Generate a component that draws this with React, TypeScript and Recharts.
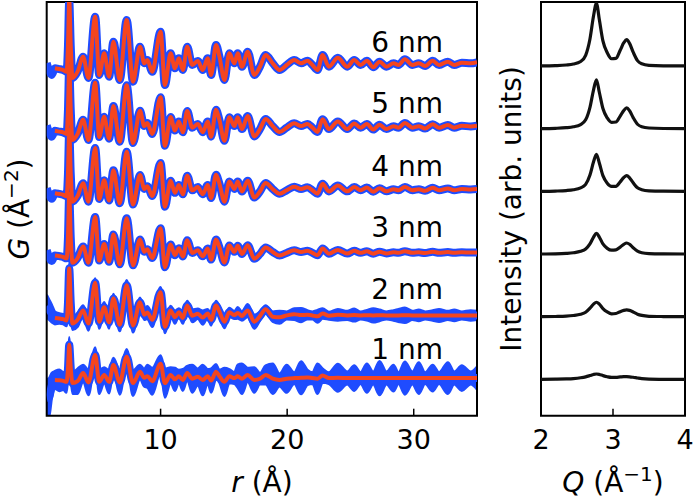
import React from 'react';
import { ComposedChart, Line, Area, XAxis, YAxis, ReferenceArea } from 'recharts';

// ---------- left panel: PDF G(r) ----------
const rPts = [1.0, 1.2, 1.4, 1.65, 2.0, 2.3, 2.57, 2.68, 2.78, 2.9, 3.04, 3.44, 3.88, 4.3, 4.83, 5.15, 5.54, 5.93, 6.27, 6.77, 7.32, 7.82, 8.37, 8.71, 8.95, 9.34, 10.0, 10.34, 10.79, 11.13, 11.44, 11.76, 12.1, 12.5, 12.94, 13.33, 13.72, 13.99, 14.38, 14.65, 15.04, 15.43, 15.83, 16.09, 16.43, 16.88, 17.4, 17.85, 18.3, 18.86, 19.4, 19.96, 20.56, 21.1, 21.6, 22.0, 22.4, 22.8, 23.3, 24.0, 24.75, 25.3, 25.8, 26.3, 26.8, 27.3, 27.85, 28.4, 28.8, 29.3, 29.9, 30.4, 30.9, 31.5, 32.0, 32.7, 33.2, 33.8, 34.5, 35.0];

const fit6 = [null, null, null, -0.57, -0.7, -0.85, -1.12, 3.0, 10.3, 3.0,
  -2.12, -1.12, 1.28, -2.12, 7.66, -1.64, 1.82, -1.91, 3.67, -2.44,
  7.13, -2.71, 2.87, 0.22, 0.75, -1.12, 5.26, -3.24, 1.82, -0.57,
  1.02, -0.85, 2.87, -0.05, 0.6, -0.85, 1.02, -1.64, 3.14, 1.28,
  -2.44, 1.82, 0.22, 1.82, -0.32, 2.07, -1.64, -0.32, 1.55, 0.22,
  -0.85, -0.05, 0.75, 0.22, 0.64, -0.05, -0.85, 1.55, -0.32, 1.1,
  -0.32, 0.75, -0.05, 0.64, -0.41, 0.48, -0.32, 0.22, -0.05, 0.86,
  -0.05, 0.22, -0.21, 0.64, -0.05, 0.48, -0.05, 0.32, 0.22, 0.38];
const fit5 = [null, null, null, -0.55, -0.68, -0.8, -1.05, 2.8, 9.8, 2.8,
  -2.0, -1.05, 1.2, -2.0, 7.1, -1.55, 1.7, -1.8, 3.4, -2.3,
  6.7, -2.5, 2.65, 0.2, 0.7, -1.05, 4.8, -2.95, 1.65, -0.5,
  0.92, -0.78, 2.6, -0.05, 0.55, -0.78, 0.92, -1.48, 2.8, 1.15,
  -2.15, 1.6, 0.2, 1.6, -0.28, 1.8, -1.45, -0.28, 1.35, 0.2,
  -0.75, -0.05, 0.65, 0.2, 0.55, -0.05, -0.72, 1.3, -0.28, 0.95,
  -0.28, 0.62, -0.05, 0.52, -0.35, 0.4, -0.27, 0.18, -0.05, 0.7,
  -0.05, 0.18, -0.18, 0.5, -0.05, 0.38, -0.05, 0.25, 0.15, 0.28];
const fit4 = [null, null, null, -0.5, -0.62, -0.75, -1.0, 2.6, 9.6, 2.6,
  -1.85, -0.95, 1.1, -1.85, 6.7, -1.42, 1.58, -1.65, 3.15, -2.1,
  6.1, -2.3, 2.4, 0.18, 0.62, -0.95, 4.3, -2.65, 1.48, -0.45,
  0.82, -0.68, 2.3, -0.05, 0.48, -0.68, 0.8, -1.28, 2.45, 1.0,
  -1.85, 1.38, 0.17, 1.35, -0.24, 1.5, -1.2, -0.24, 1.12, 0.16,
  -0.6, -0.04, 0.52, 0.16, 0.44, -0.04, -0.58, 1.02, -0.22, 0.72,
  -0.21, 0.48, -0.04, 0.4, -0.26, 0.3, -0.2, 0.13, -0.03, 0.5,
  -0.03, 0.13, -0.12, 0.35, -0.03, 0.26, -0.03, 0.17, 0.1, 0.18];
const fit3 = [null, null, null, -0.45, -0.55, -0.68, -0.9, 2.4, 9.4, 2.4,
  -1.6, -0.85, 1.0, -1.6, 5.7, -1.25, 1.4, -1.45, 2.9, -1.85,
  5.5, -2.0, 2.1, 0.15, 0.55, -0.85, 3.9, -2.3, 1.3, -0.4,
  0.7, -0.6, 2.0, -0.05, 0.4, -0.58, 0.68, -1.1, 2.1, 0.85,
  -1.55, 1.15, 0.14, 1.1, -0.2, 1.2, -0.95, -0.2, 0.85, 0.12,
  -0.45, -0.03, 0.38, 0.11, 0.3, -0.03, -0.4, 0.68, -0.15, 0.45,
  -0.13, 0.3, -0.02, 0.24, -0.15, 0.17, -0.11, 0.07, -0.02, 0.25,
  -0.02, 0.06, -0.06, 0.16, -0.01, 0.1, -0.01, 0.06, 0.03, 0.05];
const fit2 = [null, null, null, -0.4, -0.5, -0.6, -0.8, 2.0, 7.5, 2.0,
  -1.3, -0.7, 0.8, -1.3, 5.2, -1.0, 1.3, -1.1, 2.7, -1.5,
  4.8, -1.6, 2.1, 0.1, 0.45, -0.7, 3.7, -1.8, 0.8, -0.3,
  0.5, -0.4, 1.6, -0.05, 0.25, -0.35, 0.3, -0.7, 1.6, 0.6,
  -1.0, 0.5, 0.05, 0.4, -0.1, 0.8, -1.0, -0.1, 1.0, -0.2,
  -0.3, 0.0, 0.2, 0.05, 0.1, 0.0, -0.15, 0.3, -0.05, 0.1,
  0, 0.05, 0, 0.03, 0, 0.02, 0, 0, 0, 0.02,
  0, 0, 0, 0, 0, 0, 0, 0, 0, 0];
const fit1 = [null, null, null, -0.3, -0.35, -0.45, -0.6, 1.5, 5.3, 1.6,
  -0.8, -0.5, 0.8, -0.7, 3.7, -0.6, 0.5, -0.6, 2.1, -0.7,
  3.4, -0.8, 1.0, 0.05, 0.3, -0.5, 2.3, -0.8, 0.5, -0.2,
  0.3, -0.3, 0.8, -0.1, 0.2, -0.3, 0.3, -0.4, 1.0, 0.3,
  -0.6, 0.3, 0.0, 0.3, -0.1, 0.5, -0.3, -0.1, 0.5, -0.1,
  -0.3, -0.1, 0.0, 0.05, 0.1, 0.0, -0.1, 0.4, 0.0, 0.05,
  0, 0, 0, 0, 0, 0, 0, 0, 0, 0,
  0, 0, 0, 0, 0, 0, 0, 0, 0, 0];

// measured data below the fit range (r = 1.0, 1.2, 1.4)
const lead6 = [0.27, -1.0, -1.64];
const lead5 = [0.3, -0.9, -1.5];
const lead4 = [0.3, -0.85, -1.4];
const lead3 = [0.4, -0.8, -1.3];
const lead2 = [1.5, 0.9, 0.3];
const lead1 = [-3.2, -3.0, -1.2];

// half-width of the noisy measured data around the fit (2 nm, 1 nm)
const noise2 = [1.8, 1.6, 1.4, 1.0, 0.8, 0.8, 0.9, 0.8, 0.7, 0.8,
  1.0, 1.1, 0.8, 1.1, 0.7, 1.1, 0.8, 1.0, 0.7, 1.0,
  0.8, 1.1, 0.7, 0.8, 1.0, 1.1, 0.8, 1.0, 0.7, 1.0,
  0.6, 0.9, 0.7, 1.0, 0.8, 1.1, 0.7, 0.9, 0.7, 0.8,
  1.0, 0.7, 0.6, 0.9, 0.7, 1.0, 1.1, 0.7, 0.6, 0.8,
  1.0, 0.6, 0.9, 1.1, 0.7, 0.6, 1.0, 0.8, 0.6, 0.9,
  0.7, 1.0, 0.6, 0.8, 1.1, 0.9, 0.6, 0.8, 1.0, 1.2,
  0.7, 0.9, 0.6, 0.8, 1.0, 0.7, 0.9, 0.6, 0.8, 0.7];
const noise1 = [3.0, 3.0, 2.0, 1.4, 1.7, 1.4, 1.7, 1.4, 1.2, 1.4,
  1.7, 2.0, 1.3, 2.0, 1.2, 1.9, 1.2, 1.8, 1.1, 1.9,
  1.2, 2.0, 1.1, 1.4, 1.8, 2.1, 1.3, 2.3, 1.2, 1.8,
  1.0, 1.7, 1.1, 2.2, 1.3, 2.4, 1.1, 1.9, 1.2, 1.0,
  2.2, 1.1, 0.9, 1.8, 2.4, 1.1, 2.0, 0.9, 1.5, 2.4,
  1.0, 2.2, 0.9, 2.6, 1.2, 0.9, 2.4, 1.1, 0.9, 2.2,
  1.0, 2.0, 0.9, 2.3, 1.0, 2.7, 1.0, 2.1, 0.9, 2.6,
  1.0, 2.5, 0.9, 2.1, 0.9, 2.5, 1.0, 2.0, 1.0, 1.8];

const sizeLabels = ['6 nm', '5 nm', '4 nm', '3 nm', '2 nm', '1 nm'];
const offsets = [60, 50, 40, 30, 20, 10];
const rTicks = [10, 20, 30];

// ---------- right panel: XRD intensity ----------
const qPts = [2.0, 2.2, 2.35, 2.45, 2.55, 2.62, 2.68, 2.73, 2.77, 2.81, 2.86, 2.92, 2.98, 3.04, 3.1, 3.15, 3.19, 3.23, 3.28, 3.34, 3.4, 3.5, 3.7, 4.0];
const xrd6 = [0, 0.05, 0.15, 0.3, 0.7, 1.7, 4.3, 8.0, 10.0, 7.4, 4.0, 2.1, 1.15, 1.2, 2.5, 3.7, 4.2, 3.6, 2.2, 0.85, 0.35, 0.1, 0.02, 0];
const xrd5 = [0, 0.05, 0.15, 0.3, 0.65, 1.4, 3.4, 6.2, 7.8, 5.8, 3.2, 1.7, 1.0, 1.05, 2.0, 2.9, 3.3, 2.85, 1.75, 0.7, 0.3, 0.1, 0.02, 0];
const xrd4 = [0, 0.04, 0.12, 0.25, 0.55, 1.1, 2.6, 4.7, 5.9, 4.5, 2.5, 1.3, 0.8, 0.8, 1.5, 2.2, 2.5, 2.15, 1.35, 0.55, 0.25, 0.08, 0.02, 0];
const xrd3 = [0, 0.03, 0.1, 0.2, 0.42, 0.8, 1.6, 2.7, 3.3, 2.7, 1.6, 0.9, 0.6, 0.65, 1.1, 1.55, 1.75, 1.55, 1.0, 0.45, 0.2, 0.07, 0.02, 0];
const xrd2 = [0, 0.03, 0.08, 0.18, 0.38, 0.7, 1.35, 2.0, 2.3, 2.0, 1.3, 0.75, 0.45, 0.5, 0.8, 1.0, 1.07, 1.0, 0.75, 0.4, 0.2, 0.06, 0.02, 0];
const xrd1 = [0, 0.02, 0.06, 0.12, 0.25, 0.4, 0.6, 0.78, 0.85, 0.78, 0.6, 0.42, 0.32, 0.32, 0.38, 0.42, 0.42, 0.4, 0.33, 0.22, 0.12, 0.04, 0.01, 0];
const qTicks = [2, 3, 4];

// ---------- derived tables ----------
const fits = [fit6, fit5, fit4, fit3, fit2, fit1];
const leads = [lead6, lead5, lead4, lead3, lead2, lead1];
const noises: (number[] | null)[] = [null, null, null, null, noise2, noise1];
const xrds = [xrd6, xrd5, xrd4, xrd3, xrd2, xrd1];

const fitSeries = fits.map((f, k) =>
  rPts.map((r, i) => ({ r, y: f[i] == null ? null : (f[i] as number) + offsets[k] }))
);
const obsVal = (k: number, i: number) =>
  (i < 3 ? leads[k][i] : (fits[k][i] as number)) + offsets[k];
const obsSeries = fits.map((_, k) => rPts.map((r, i) => ({ r, y: obsVal(k, i) })));
const bandSeries = noises.map((n, k) =>
  n ? rPts.map((r, i) => ({ r, band: [obsVal(k, i) - n[i], obsVal(k, i) + n[i]] })) : null
);
const xrdSeries = xrds.map((s, k) => qPts.map((q, i) => ({ q, y: s[i] + offsets[k] })));

const BLUE = '#1f4cff';
const RED = '#f5451f';
const FONT = 'DejaVu Sans';

function AxisTick(props: any) {
  const { x, y, payload } = props;
  return (
    <g>
      <line x1={x} x2={x} y1={y} y2={y - 7} stroke="#000" strokeWidth={1.5} />
      <text x={x} y={y + 33} textAnchor="middle" fontSize={27} fontFamily={FONT} fill="#000">
        {payload.value}
      </text>
    </g>
  );
}

export default function App() {
  return (
    <div style={{ position: 'absolute', left: 0, top: 0, width: 693, height: 500, background: '#fff', overflow: 'hidden' }}>
      <div style={{ position: 'absolute', left: 0, top: 0 }}>
        <ComposedChart width={693} height={500} margin={{ top: 2, right: 216, bottom: 0, left: 46.7 }}>
          <XAxis
            type="number"
            dataKey="r"
            domain={[1, 35]}
            allowDataOverflow
            ticks={rTicks}
            interval={0}
            height={84.3}
            tickSize={0}
            tickMargin={0}
            axisLine={false}
            tickLine={false}
            tick={<AxisTick />}
          />
          <YAxis type="number" hide domain={[4, 70]} allowDataOverflow />
          {bandSeries.map((b, k) =>
            b ? (
              <Area
                key={'band' + k}
                data={b}
                dataKey="band"
                type="monotone"
                stroke={BLUE}
                strokeWidth={2.5}
                fill={BLUE}
                fillOpacity={1}
                dot={false}
                activeDot={false}
                isAnimationActive={false}
              />
            ) : null
          )}
          {obsSeries.map((s, k) => (
            <Line
              key={'obs' + k}
              data={s}
              dataKey="y"
              type="monotone"
              stroke={BLUE}
              strokeWidth={8}
              strokeLinejoin="round"
              dot={false}
              activeDot={false}
              isAnimationActive={false}
            />
          ))}
          {fitSeries.map((s, k) => (
            <Line
              key={'fit' + k}
              data={s}
              dataKey="y"
              type="monotone"
              stroke={RED}
              strokeWidth={4}
              strokeLinejoin="round"
              dot={false}
              activeDot={false}
              isAnimationActive={false}
            />
          ))}
          <ReferenceArea x1={1} x2={35} y1={4} y2={70} fill="none" stroke="#000" strokeWidth={2} ifOverflow="visible" />
        </ComposedChart>
      </div>
      <div style={{ position: 'absolute', left: 0, top: 0 }}>
        <ComposedChart width={693} height={500} margin={{ top: 2, right: 8, bottom: 0, left: 541 }}>
          <XAxis
            type="number"
            dataKey="q"
            domain={[2, 4]}
            allowDataOverflow
            ticks={qTicks}
            interval={0}
            height={84.3}
            tickSize={0}
            tickMargin={0}
            axisLine={false}
            tickLine={false}
            tick={<AxisTick />}
          />
          <YAxis type="number" hide domain={[4.2, 70.2]} allowDataOverflow />
          {xrdSeries.map((s, k) => (
            <Line
              key={'xrd' + k}
              data={s}
              dataKey="y"
              type="monotone"
              stroke="#111"
              strokeWidth={3.2}
              strokeLinejoin="round"
              dot={false}
              activeDot={false}
              isAnimationActive={false}
            />
          ))}
          <ReferenceArea x1={2} x2={4} y1={4.2} y2={70.2} fill="none" stroke="#000" strokeWidth={2} ifOverflow="visible" />
        </ComposedChart>
      </div>
      <svg width={693} height={500} style={{ position: 'absolute', left: 0, top: 0, pointerEvents: 'none' }}>
        <g fontFamily={FONT} fill="#000" fontSize={28}>
          <text x={443} y={52} textAnchor="end">{sizeLabels[0]}</text>
          <text x={443} y={113} textAnchor="end">{sizeLabels[1]}</text>
          <text x={443} y={176} textAnchor="end">{sizeLabels[2]}</text>
          <text x={443} y={237} textAnchor="end">{sizeLabels[3]}</text>
          <text x={443} y={299} textAnchor="end">{sizeLabels[4]}</text>
          <text x={443} y={359} textAnchor="end">{sizeLabels[5]}</text>
          <text x={262} y={492} textAnchor="middle">
            <tspan fontStyle="italic">r</tspan> (Å)
          </text>
          <text x={613} y={492} textAnchor="middle">
            <tspan fontStyle="italic">Q</tspan> (Å<tspan dy={-11} fontSize={20}>−1</tspan><tspan dy={11}>)</tspan>
          </text>
          <text transform="translate(29,209) rotate(-90)" textAnchor="middle">
            <tspan fontStyle="italic">G</tspan> (Å<tspan dy={-11} fontSize={20}>−2</tspan><tspan dy={11}>)</tspan>
          </text>
          <text transform="translate(521,209) rotate(-90)" textAnchor="middle">Intensity (arb. units)</text>
        </g>
      </svg>
    </div>
  );
}
